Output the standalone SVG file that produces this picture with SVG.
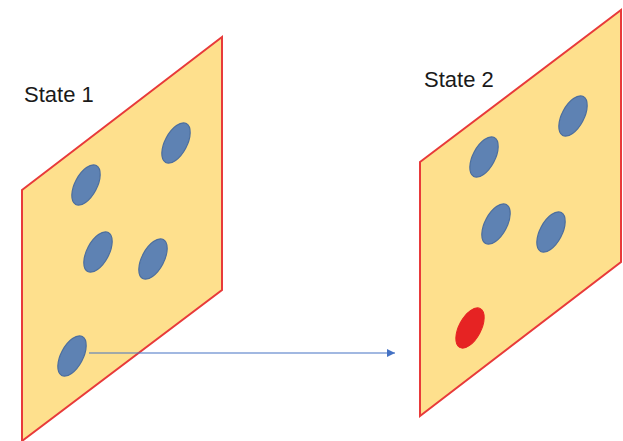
<svg xmlns="http://www.w3.org/2000/svg" width="623" height="441" viewBox="0 0 623 441">
<style>
.plane{fill:#FEE08D;stroke:#E83A3A;stroke-width:2;stroke-linejoin:miter}
.dot{fill:#5E82B3;stroke:#4C6E9E;stroke-width:1.2}
.red{fill:#E62323;stroke:#E62323;stroke-width:1}
.lbl{font-family:"Liberation Sans",Arial,sans-serif;font-size:22px;fill:#1a1a1a}
.conn{stroke:#4472C4;stroke-width:1.2;fill:none}
</style>
<defs>
<marker id="arr" markerWidth="10" markerHeight="10" refX="8" refY="4" orient="auto" markerUnits="userSpaceOnUse">
<path d="M0,0 L8,4 L0,8 Z" fill="#4472C4"/>
</marker>
</defs>
<rect width="623" height="441" fill="#fff"/>
<g id="state1">
<polygon class="plane" points="22,190 222,37 222,290 22,441"/>
<ellipse class="dot" cx="176" cy="143" rx="11" ry="22" transform="rotate(28 176 143)"/>
<ellipse class="dot" cx="86" cy="185" rx="11" ry="22" transform="rotate(28 86 185)"/>
<ellipse class="dot" cx="98" cy="252" rx="11" ry="22" transform="rotate(28 98 252)"/>
<ellipse class="dot" cx="153" cy="259" rx="11" ry="22" transform="rotate(28 153 259)"/>
<ellipse class="dot" cx="72" cy="356" rx="11" ry="22" transform="rotate(28 72 356)"/>
<text class="lbl" x="24" y="102">State 1</text>
</g>
<g id="state2">
<polygon class="plane" points="420,162 621,10 621,262 420,416"/>
<ellipse class="dot" cx="573" cy="116" rx="11" ry="22" transform="rotate(28 573 116)"/>
<ellipse class="dot" cx="484" cy="157" rx="11" ry="22" transform="rotate(28 484 157)"/>
<ellipse class="dot" cx="496" cy="224" rx="11" ry="22" transform="rotate(28 496 224)"/>
<ellipse class="dot" cx="551" cy="232" rx="11" ry="22" transform="rotate(28 551 232)"/>
<ellipse class="red" cx="470" cy="328" rx="11" ry="22" transform="rotate(28 470 328)"/>
<text class="lbl" x="424" y="87">State 2</text>
</g>
<g id="connectors">
<line class="conn" x1="89" y1="353" x2="395" y2="353" marker-end="url(#arr)"/>
</g>
</svg>
